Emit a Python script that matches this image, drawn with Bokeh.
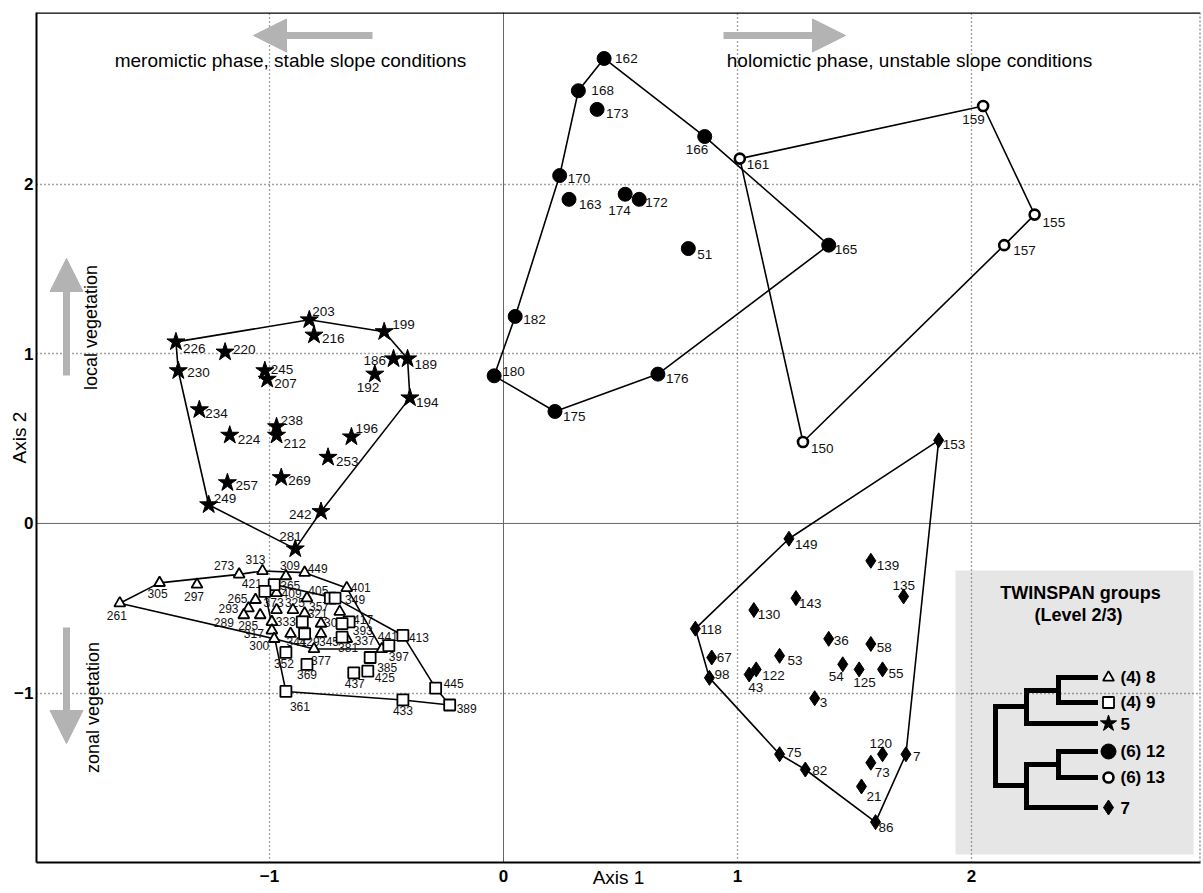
import math
from bokeh.plotting import figure
from bokeh.models import (ColumnDataSource, Range1d, FixedTicker, Span, Label,
                          Arrow, NormalHead)
from bokeh.core.properties import value
from bokeh.embed import file_html
from bokeh.resources import INLINE

FONT = "Liberation Sans"

# ---------------- data ----------------
# group 5 (stars)
g5_id = ["226","203","199","216","220","186","189","230","245","207","192","194",
         "234","238","212","224","196","253","257","269","249","242","281"]
g5_x = [-1.40,-0.83,-0.51,-0.81,-1.19,-0.47,-0.41,-1.39,-1.02,-1.01,-0.55,-0.40,
        -1.30,-0.97,-0.97,-1.17,-0.65,-0.75,-1.18,-0.95,-1.26,-0.78,-0.89]
g5_y = [1.07,1.20,1.13,1.11,1.01,0.97,0.97,0.90,0.90,0.85,0.88,0.74,
        0.67,0.57,0.52,0.52,0.51,0.39,0.24,0.27,0.11,0.07,-0.15]
g5_hull = ["226","203","199","189","194","242","281","249","230","226"]

# group 12 (filled circles)
g12_id = ["162","168","173","166","170","163","174","172","51","165","182","180","176","175"]
g12_x = [0.43,0.32,0.40,0.86,0.24,0.28,0.52,0.58,0.79,1.39,0.05,-0.04,0.66,0.22]
g12_y = [2.74,2.55,2.44,2.28,2.05,1.91,1.94,1.91,1.62,1.64,1.22,0.87,0.88,0.66]
g12_hull = ["162","166","165","176","175","180","182","170","168","162"]

# group 13 (open circles)
g13_id = ["161","159","155","157","150"]
g13_x = [1.01,2.05,2.27,2.14,1.28]
g13_y = [2.15,2.46,1.82,1.64,0.48]
g13_hull = ["161","159","155","157","150","161"]

# group 7 (diamonds)
g7_id = ["153","149","139","135","143","130","118","36","58","67","53","54","125",
         "55","122","43","98","3","75","120","7","73","82","21","86"]
g7_x = [1.86,1.22,1.57,1.71,1.25,1.07,0.82,1.39,1.57,0.89,1.18,1.45,1.52,
        1.62,1.08,1.05,0.88,1.33,1.18,1.62,1.72,1.57,1.29,1.53,1.59]
g7_y = [0.49,-0.09,-0.22,-0.43,-0.44,-0.51,-0.62,-0.68,-0.71,-0.79,-0.78,-0.83,-0.86,
        -0.86,-0.86,-0.89,-0.91,-1.03,-1.36,-1.36,-1.36,-1.41,-1.45,-1.55,-1.76]
g7_hull = ["153","149","118","98","75","82","86","7","153"]

# group 8 (triangles)
g8_id = ["261","305","297","273","313","309","449","401","265","409","293","289",
         "285","373","325","357","321","333","317","300","301","341","345","393",
         "337","377","441"]
g8_x = [-1.64,-1.47,-1.31,-1.13,-1.03,-0.93,-0.85,-0.67,-1.06,-0.97,-1.09,-1.11,
        -1.04,-0.97,-0.90,-0.84,-0.85,-0.99,-0.99,-0.98,-0.78,-0.91,-0.78,-0.70,
        -0.67,-0.81,-0.52]
g8_y = [-0.47,-0.35,-0.36,-0.30,-0.28,-0.31,-0.29,-0.38,-0.45,-0.41,-0.50,-0.54,
        -0.54,-0.51,-0.51,-0.44,-0.53,-0.58,-0.63,-0.68,-0.59,-0.65,-0.65,-0.52,
        -0.68,-0.74,-0.74]
g8_hull = ["261","305","273","313","449","401","441","377","300","261"]

# group 9 (squares)
g9_id = ["365","421","405","349","417","413","397","385","437","425","445","389",
         "433","361","352","369","381","429","",""]
g9_x = [-0.98,-1.02,-0.74,-0.72,-0.66,-0.43,-0.49,-0.57,-0.64,-0.58,-0.29,-0.23,
        -0.43,-0.93,-0.93,-0.84,-0.69,-0.85,-0.69,-0.86]
g9_y = [-0.36,-0.40,-0.44,-0.44,-0.58,-0.66,-0.72,-0.79,-0.88,-0.87,-0.97,-1.07,
        -1.04,-0.99,-0.76,-0.83,-0.67,-0.65,-0.59,-0.58]
g9_hull = ["421","365","349","413","445","389","433","361","421"]

# legend entries
leg_text = ["(4) 8", "(4) 9", "5", "(6) 12", "(6) 13", "7"]

# ---------------- label offsets (style, pixels) ----------------
g5_off = [(7,7),(3,-8),(8,-7),(8,3),(8,-3),(-30,2),(7,6),(9,2),(6,-1),(7,4),(-18,13),(6,5),
          (6,4),(4,-6),(7,8),(8,4),(4,-8),(8,4),(8,3),(7,3),(5,-6),(-32,3),(-16,-12)]
g12_off = [(11,0),(13,0),(9,4),(-19,13),(8,3),(10,5),(-17,16),(6,3),(9,6),(6,4),(8,3),(8,-4),(8,4),(8,5)]
g13_off = [(7,6),(-21,13),(8,8),(9,5),(8,7)]
g7_off = [(4,4),(6,6),(6,5),(-11,-11),(3,5),(4,5),(5,1),(5,2),(6,4),(5,0),(8,5),(-14,12),(-6,13),
          (6,4),(6,6),(-1,13),(5,-3),(5,4),(7,-2),(-13,-11),(7,2),(4,10),(7,1),(5,10),(3,5)]
g8_off = [(-13,12),(-12,11),(-13,12),(-25,-9),(-17,-11),(-6,-11),(3,-4),(4,0),(-28,-1),(5,0),(-30,0),(-30,7),
          (-22,10),(-13,-7),(-8,-7),(2,8),(3,0),(4,0),(-28,3),(-25,7),(3,-1),(-4,8),(-2,8),(13,19),
          (8,2),(-3,11),(-4,-13)]
g9_off = [(6,1),(-23,-8),(-22,-8),(10,1),(4,-2),(6,2),(0,11),(7,10),(-9,11),(7,6),(8,-5),(7,3),
          (-10,11),(4,15),(-12,11),(-10,10),(-4,10),(-5,8),(0,0),(0,0)]

# ---------------- figure ----------------
X0, X1 = -1.996, 2.979
Y0, Y1 = -1.998, 3.011
FW, FH = 1164, 850
p = figure(width=1203, height=893, x_range=Range1d(X0, X1), y_range=Range1d(Y0, Y1),
           output_backend="svg", toolbar_location=None, min_border_left=36,
           min_border_right=3, min_border_top=12, min_border_bottom=31,
           background_fill_color="white", border_fill_color="white")
p.outline_line_color = None

def sx(px):
    return X0 + (px - 36) * (X1 - X0) / FW
def sy(py):
    return Y1 - (py - 12) * (Y1 - Y0) / FH

# axes
for ax, ticks in ((p.xaxis, [-1, 0, 1, 2]), (p.yaxis, [-1, 0, 1, 2])):
    ax.ticker = FixedTicker(ticks=ticks)
    ax.axis_line_color = "black"
    ax.axis_line_width = 2
    ax.major_tick_in = 0
    ax.major_tick_out = 0
    ax.minor_tick_line_color = None
    ax.major_label_text_font = FONT
    ax.major_label_text_font_style = "bold"
    ax.major_label_text_font_size = "17px"
    ax.major_label_text_color = "black"
    ax.axis_label_text_font = FONT
    ax.axis_label_text_font_style = "normal"
    ax.axis_label_text_font_size = "19px"
    ax.axis_label_text_color = "black"
p.xaxis.major_label_standoff = 7
p.yaxis.major_label_standoff = 3
p.xaxis.axis_label = "Axis 1"
p.yaxis.axis_label = "Axis 2"
p.xaxis.axis_label_standoff = -18
p.yaxis.axis_label_standoff = -19

p.xgrid.ticker = FixedTicker(ticks=[-1, 1, 2])
p.ygrid.ticker = FixedTicker(ticks=[-1, 1, 2])
for g in (p.xgrid, p.ygrid):
    g.grid_line_color = "#444444"
    g.grid_line_dash = "1 3"
    g.grid_line_width = 1.3

p.add_layout(Span(location=0, dimension="height", line_color="#666666", line_width=1, level="underlay"))
p.add_layout(Span(location=0, dimension="width", line_color="#666666", line_width=1, level="underlay"))
p.add_layout(Span(location=Y1, dimension="width", line_color="black", line_width=2.5))
p.add_layout(Span(location=X1, dimension="height", line_color="#666666", line_width=2, line_dash="2 2"))

# legend box (under grid)
p.quad(left=sx(955), right=sx(1193), top=sy(570), bottom=sy(854), fill_color="#e6e6e6",
       line_color=None, level="image")

# arrows
GRAY = "#b3b3b3"
for (a, b) in [((372, 35), (253, 35)), ((723, 35), (845, 35)),
               ((66, 375), (66, 258)), ((66, 627), (66, 743))]:
    p.add_layout(Arrow(x_start=sx(a[0]), y_start=sy(a[1]), x_end=sx(b[0]), y_end=sy(b[1]),
                       line_color=GRAY, line_width=7,
                       end=NormalHead(size=33, fill_color=GRAY, line_color=GRAY, line_width=1)))

def lab(px, py, text, size="18px", angle=0.0, bold=False, align="center"):
    p.add_layout(Label(x=sx(px), y=sy(py), text=text, text_font=FONT, text_font_size=size,
                       text_align=align, text_baseline="middle", angle=angle,
                       text_font_style="bold" if bold else "normal", text_color="black"))

lab(290, 60, "meromictic phase, stable slope conditions", size="19px")
lab(909, 60, "holomictic phase, unstable slope conditions", size="19px")
lab(90, 327, "local vegetation", angle=math.pi / 2)
lab(92, 707, "zonal vegetation", angle=math.pi / 2)

# hull lines
def hull(ids, xs, ys, order):
    d = {i: (x, y) for i, x, y in zip(ids, xs, ys)}
    p.line([d[i][0] for i in order], [d[i][1] for i in order], line_color="black", line_width=1.6)

for args in ((g5_id, g5_x, g5_y, g5_hull), (g12_id, g12_x, g12_y, g12_hull),
             (g13_id, g13_x, g13_y, g13_hull), (g7_id, g7_x, g7_y, g7_hull),
             (g8_id, g8_x, g8_y, g8_hull), (g9_id, g9_x, g9_y, g9_hull)):
    hull(*args)

# labels
def labels(ids, xs, ys, off, size="13.5px"):
    src = ColumnDataSource(dict(x=xs, y=ys, t=ids, dx=[o[0] for o in off], dy=[o[1] for o in off]))
    p.text(x="x", y="y", text="t", x_offset="dx", y_offset="dy", source=src,
           text_font=value(FONT), text_font_size=size, text_baseline="middle",
           text_align="left", text_color="#111111")

labels(g5_id, g5_x, g5_y, g5_off)
labels(g12_id, g12_x, g12_y, g12_off)
labels(g13_id, g13_x, g13_y, g13_off)
labels(g7_id, g7_x, g7_y, g7_off)
labels(g8_id, g8_x, g8_y, g8_off, size="12px")
labels(g9_id, g9_x, g9_y, g9_off, size="12px")

# markers
p.scatter(g8_x, g8_y, marker="triangle", size=11, fill_color="white", line_color="black", line_width=1.8)
p.scatter(g9_x, g9_y, marker="square", size=11, fill_color="white", line_color="black", line_width=1.8)
p.scatter(g5_x, g5_y, marker="star", size=19, fill_color="black", line_color="black")
p.scatter(g12_x, g12_y, marker="circle", size=14, fill_color="black", line_color="black")
p.scatter(g13_x, g13_y, marker="circle", size=10, fill_color="white", line_color="black", line_width=2.6)
p.scatter(g7_x, g7_y, marker="diamond", size=15, fill_color="black", line_color="black")

# legend
lab(1080, 592, "TWINSPAN groups", bold=True)
lab(1078, 614, "(Level 2/3)", bold=True)
leg_y = [677, 702, 723, 751, 777, 807]
segs = [((1058, leg_y[0]), (1095, leg_y[0])), ((1058, leg_y[1]), (1095, leg_y[1])),
        ((1058, leg_y[0]), (1058, leg_y[1])), ((1026, 690), (1058, 690)),
        ((1026, leg_y[2]), (1095, leg_y[2])), ((1026, 690), (1026, leg_y[2])),
        ((995, 706), (1026, 706)),
        ((1058, leg_y[3]), (1095, leg_y[3])), ((1058, leg_y[4]), (1095, leg_y[4])),
        ((1058, leg_y[3]), (1058, leg_y[4])), ((1026, 764), (1058, 764)),
        ((1026, leg_y[5]), (1095, leg_y[5])), ((1026, 764), (1026, leg_y[5])),
        ((995, 785), (1026, 785)), ((995, 706), (995, 785))]
p.multi_line([[sx(a[0]), sx(b[0])] for a, b in segs], [[sy(a[1]), sy(b[1])] for a, b in segs],
             line_color="black", line_width=5, line_cap="square")
mk = [("triangle", 11, "white", 1.8), ("square", 11, "white", 1.8), ("star", 17, "black", 1),
      ("circle", 15, "black", 1), ("circle", 10, "white", 2.6), ("diamond", 15, "black", 1)]
for yy, (m, s, fc, lw), t in zip(leg_y, mk, leg_text):
    p.scatter([sx(1108)], [sy(yy)], marker=m, size=s, fill_color=fc, line_color="black", line_width=lw)
    lab(1120, yy, t, size="17px", bold=True, align="left")

open("out.html", "w").write(file_html(p, INLINE))
